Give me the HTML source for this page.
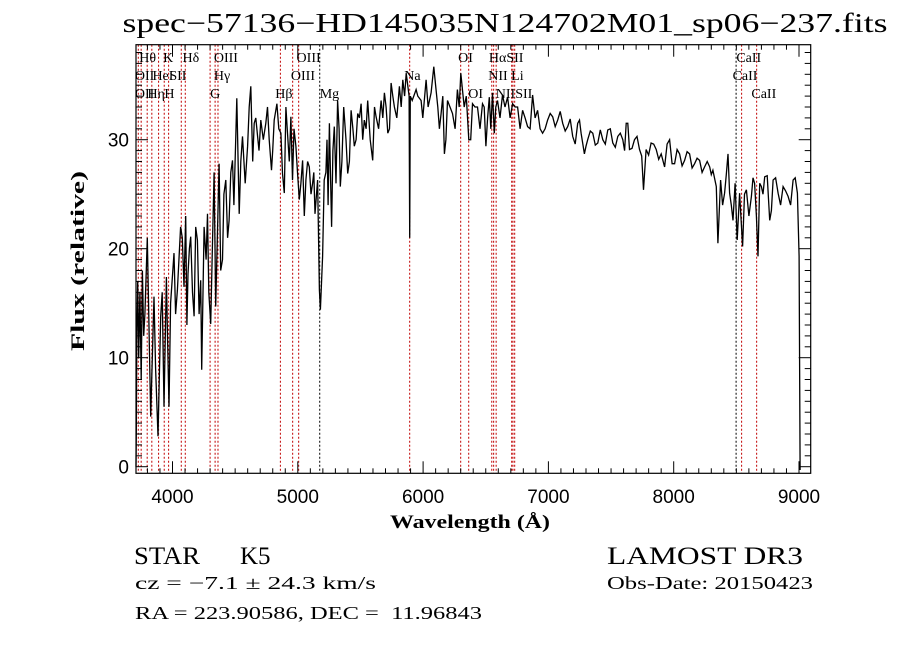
<!DOCTYPE html>
<html><head><meta charset="utf-8"><style>
html,body{margin:0;padding:0;background:#fff;}
svg{display:block;}
</style></head><body>
<svg id="chart" width="900" height="649" xmlns="http://www.w3.org/2000/svg">
<rect x="0" y="0" width="900" height="649" fill="#fff"/>
<text x="505" y="32" text-anchor="middle" font-family="Liberation Serif, serif" font-size="27" textLength="765" lengthAdjust="spacingAndGlyphs">spec−57136−HD145035N124702M01_sp06−237.fits</text>
<g id="lines"></g>
<g id="labels" font-family="Liberation Serif, serif" font-size="14"></g>
<g id="spec"></g>
<g id="axes"></g>
<text x="470" y="528" text-anchor="middle" font-family="Liberation Serif, serif" font-weight="bold" font-size="19" textLength="160" lengthAdjust="spacingAndGlyphs">Wavelength (Å)</text>
<text transform="translate(84,261) rotate(-90)" text-anchor="middle" font-family="Liberation Serif, serif" font-weight="bold" font-size="19" textLength="180" lengthAdjust="spacingAndGlyphs">Flux (relative)</text>
<text x="134" y="564" font-family="Liberation Serif, serif" font-size="25" textLength="66" lengthAdjust="spacingAndGlyphs">STAR</text>
<text x="240" y="564" font-family="Liberation Serif, serif" font-size="25">K5</text>
<text x="607" y="564" font-family="Liberation Serif, serif" font-size="25" textLength="196" lengthAdjust="spacingAndGlyphs">LAMOST DR3</text>
<text x="135" y="589" font-family="Liberation Serif, serif" font-size="18" textLength="241" lengthAdjust="spacingAndGlyphs">cz = −7.1 ± 24.3 km/s</text>
<text x="607" y="589" font-family="Liberation Serif, serif" font-size="18" textLength="206" lengthAdjust="spacingAndGlyphs">Obs-Date: 20150423</text>
<text x="135" y="619" font-family="Liberation Serif, serif" font-size="18" textLength="347" lengthAdjust="spacingAndGlyphs">RA = 223.90586, DEC =&#160;&#160;11.96843</text>
</svg>
<script>
const wavelengths=[3709,3711,3715,3722,3730,3740,3750,3760,3770,3780,3799,3826,3852,3884,3906,3932,3951,3972,3985,4012,4039,4065,4092,4105,4124,4145,4172,4199,4225,4233,4252,4279,4305,4332,4345,4372,4399,4425,4452,4479,4505,4513,4532,4559,4599,4625,4652,4679,4705,4745,4772,4790,4812,4833,4865,4878,4892,4918,4945,4958,4985,5012,5038,5065,5092,5118,5137,5158,5172,5180,5198,5211,5233,5252,5270,5291,5318,5339,5366,5398,5425,5451,5478,5505,5531,5558,5598,5625,5665,5691,5718,5745,5771,5811,5838,5865,5888,5893,5898,5913,5944,5984,6024,6064,6085,6117,6144,6170,6195,6235,6274,6301,6328,6365,6394,6434,6474,6501,6528,6554,6568,6594,6634,6674,6714,6754,6794,6834,6874,6914,6954,6994,7034,7074,7114,7154,7194,7234,7261,7287,7314,7354,7394,7434,7474,7514,7554,7594,7621,7647,7687,7727,7759,7780,7820,7860,7900,7927,7967,8007,8047,8087,8127,8167,8207,8247,8287,8313,8340,8353,8374,8406,8433,8446,8473,8507,8526,8550,8580,8620,8646,8673,8700,8726,8766,8793,8833,8873,8913,8953,8987,9001,9009];
const fluxes=[0,3,12,17,10,16,8,18,12,14,21,4.6,15.6,2.8,13.8,5.5,17.4,5.5,15,19.6,16.2,22,16.5,23,17.7,21.1,13.8,20.8,17.1,8.9,22,23.2,13.1,27,14.7,27.8,19,26.3,22.6,28.1,30.3,33.8,23.2,30.3,29.4,34.9,31.5,30.3,31.8,31.5,30,27.2,31.8,33.3,30.6,26.9,25.1,30.6,32.1,26.3,29.4,24.5,28.1,26.3,27.5,26,23.2,26.3,16.2,14.4,19.3,26.3,30,31.5,22,31.2,33.6,25.7,33,26.9,32.7,29.4,32.4,33.3,31.8,33.6,28.1,32.1,33.6,34.3,30.6,35.2,33,34.9,35.5,36.1,34,21,34,33.6,34.6,33.6,35.5,34.3,36.7,33,32.4,28.7,33.6,32.4,34.6,36.1,33,30,33.3,33,33.3,29.4,33.9,34.3,30.6,33.6,34.1,33.9,33.3,33,32.7,31.2,34.1,32.7,30.6,31.8,32.1,31.8,31.5,31.2,30.3,31.5,30.6,28.7,30,30.6,29.7,30,30.9,29.7,30.3,30,31.5,29.1,30,29.1,25.4,29.1,29.7,29.1,28.7,27.5,30,27.8,28.7,28.1,28.7,27.8,28.1,27.5,27.5,27.2,25.7,20.5,26.3,25.1,28.7,25.1,22.6,20.8,25.1,20.2,25.4,24.8,26,19.3,25.7,26.6,22.6,26.3,25.1,25.7,24.8,26.3,25.1,19.3,-0.3];
const wavelengthsExtra=[3865,3918,3960,4025,4078,4115,4135,4160,4185,4212,4268,4290,4320,4385,4410,4440,4465,4490,4545,4580,4612,4640,4665,4690,4725,4758,4800,4848,4905,4932,4970,4998,5025,5052,5078,5105,5128,5224,5242,5280,5305,5330,5352,5385,5412,5440,5465,5492,5518,5545,5578,5612,5645,5678,5705,5732,5758,5790,5825,5852,5958,5998,6040,6100,6130,6157,6182,6215,6255,6288,6345,6380,6414,6454,6488,6515,6540,6580,6614,6654,6694,6734,6774,6814,6854,6894,6934,6974,7014,7054,7094,7134,7174,7214,7248,7300,7334,7374,7414,7454,7494,7534,7574,7608,7634,7667,7707,7745,7800,7840,7880,7947,7987,8027,8067,8107,8147,8187,8227,8267,8300,8390,8420,8460,8490,8565,8600,8633,8660,8686,8713,8746,8780,8813,8853,8893,8933,8970];
const fluxesExtra=[9,16,12,14,21,13,20,16,22,14,19,16,21,18,25,21,27,24,28,26,33,28,32,29,30,33,29,31,33,28,31,27,26,23,28,25,27,27,24,29,26,31,28,30,28,31,30,32,30,31,30,33,31,32,33,31,34,32,33,34,34,32,33,35,31,34,30,33,31,33,34,30,33,31,33,32,31,33,32,33,32,33,31,32,31,32,31,31,32.4,31.2,32.6,30.8,31.9,29.6,31.8,29.4,30.8,29.5,30.9,29.6,31,29.3,30.6,29,31.5,29.2,30.3,28.5,28.6,29.6,28.2,29.6,27.8,29.1,27.6,28.9,27.4,28.3,27,28,26.8,24,26.8,24,26,25,23,26.5,23,26,25,26.7,23.5,26.5,24,25.3,24,26.5,23.5];
const markerWaves=[3727,3750,3798,3835,3889,3934,3969,4070,4102,4300,4340,4363,4861,4959,5007,5175,5893,6300,6364,6548,6563,6583,6707,6717,6731,8498,8542,8662];
const markerColors=["r","r","r","r","r","r","r","r","r","r","r","r","r","r","r","k","r","r","r","r","r","r","r","r","r","k","r","r"];
const labelTexts=["Hθ","K","Hδ","OIII","OIII","OI","HαSII","CaII","OII","HeI","SII","Hγ","OIII","Na","NII Li","CaII","OII","Hη","H","G","Hβ","Mg","OI","NIISII","CaII"];
const labelWaves=[3735,3925,4080,4330,4990,6280,6525,8500,3700,3840,3975,4330,4945,5850,6520,8470,3700,3800,3935,4300,4820,5175,6360,6580,8620];
const labelRows=[0,0,0,0,0,0,0,0,1,1,1,1,1,1,1,1,2,2,2,2,2,2,2,2,2];
const xTicks=[4000,5000,6000,7000,8000,9000];
const yTicks=[0,10,20,30];

const X0=136,X1=810.7,Y0=44.7,Y1=473.3;
const xs=w=>423.1+(w-6000)*0.1253;
const ys=f=>466.7-f*10.9;
const NS="http://www.w3.org/2000/svg";
function mk(tag,parent,attrs){const e=document.createElementNS(NS,tag);for(const k in attrs)e.setAttribute(k,attrs[k]);parent.appendChild(e);return e;}

const gl=document.getElementById('lines');
markerWaves.forEach((w,i)=>{
  const l=mk('line',gl,{x1:xs(w),x2:xs(w),y1:Y0,y2:Y1,stroke:markerColors[i]==='r'?'#c00000':'#000','stroke-width':1,'stroke-dasharray':'2,2'});
  
  
});
const glab=document.getElementById('labels');
labelTexts.forEach((t,i)=>{
  const e=mk('text',glab,{x:xs(labelWaves[i]),y:62+labelRows[i]*18});
  e.textContent=t;
  
  
});

const pts=wavelengths.map((w,i)=>[w,fluxes[i]]).concat(wavelengthsExtra.map((w,i)=>[w,fluxesExtra[i]]));
pts.sort((a,b)=>a[0]-b[0]);
const gs=document.getElementById('spec');
let d='';
pts.forEach((pt,i)=>{d+=(i?'L':'M')+xs(pt[0]).toFixed(1)+','+ys(pt[1]).toFixed(1);});
const p=mk('path',gs,{d:d,fill:'none',stroke:'#000','stroke-width':1.3,'stroke-linejoin':'miter'});



const ga=document.getElementById('axes');
const frame=mk('rect',ga,{x:X0,y:Y0,width:X1-X0,height:Y1-Y0,fill:'none',stroke:'#000','stroke-width':1.2});


for(let w=3800;w<=9000;w+=100){
  const big=w%1000===0, len=big?12:5;
  mk('line',ga,{x1:xs(w),x2:xs(w),y1:Y1,y2:Y1-len,stroke:'#000'});
  mk('line',ga,{x1:xs(w),x2:xs(w),y1:Y0,y2:Y0+len,stroke:'#000'});
}
for(let f=0;f<=38;f+=1){
  const big=f%10===0, len=big?12:6;
  mk('line',ga,{x1:X0,x2:X0+len,y1:ys(f),y2:ys(f),stroke:'#000'});
  mk('line',ga,{x1:X1,x2:X1-len,y1:ys(f),y2:ys(f),stroke:'#000'});
}
xTicks.forEach(v=>{
  const t=mk('text',ga,{x:xs(v),y:503,'text-anchor':'middle','font-family':'Liberation Sans, sans-serif','font-size':19});
  t.textContent=v;
  
  
});
yTicks.forEach(v=>{
  const t=mk('text',ga,{x:129,y:ys(v)+7,'text-anchor':'end','font-family':'Liberation Sans, sans-serif','font-size':19});
  t.textContent=v;
  
  
});
</script>
</body></html>
